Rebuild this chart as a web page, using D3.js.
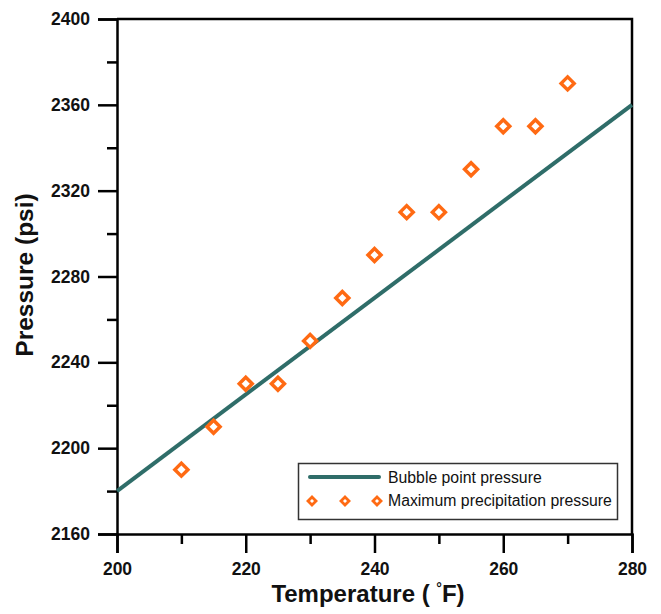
<!DOCTYPE html>
<html>
<head>
<meta charset="utf-8">
<script src="https://cdn.jsdelivr.net/npm/d3@7"></script>
<style>
  html, body { margin: 0; padding: 0; background: #fff; }
  svg { display: block; font-family: Arial, "Liberation Sans", sans-serif; }
</style>
</head>
<body>
<svg id="chart" width="661" height="614"></svg>
<script>
// Bubble point pressure line (end points of the straight trend)
const bubbleTemps = [200, 280];
const bubblePressures = [2180, 2360];

// Maximum precipitation pressure measurements
const precipTemps = [210, 215, 220, 225, 230, 235, 240, 245, 250, 255, 260, 265, 270];
const precipPressures = [2190, 2210, 2230, 2230, 2250, 2270, 2290, 2310, 2310, 2330, 2350, 2350, 2370];

// Axis ticks
const xMajorTicks = [200, 220, 240, 260, 280];
const xMinorTicks = [210, 230, 250, 270];
const yMajorTicks = [2160, 2200, 2240, 2280, 2320, 2360, 2400];
const yMinorTicks = [2180, 2220, 2260, 2300, 2340, 2380];

const seriesNames = ["Bubble point pressure", "Maximum precipitation pressure"];

const lineColor = "#2f6d69";
const markColor = "#ff6a13";

const margin = { left: 117, right: 632, top: 19, bottom: 534 };
const svg = d3.select("#chart");

const x = d3.scaleLinear().domain([200, 280]).range([margin.left, margin.right]);
const y = d3.scaleLinear().domain([2160, 2400]).range([margin.bottom, margin.top]);

// Frame (top and right edges)
svg.append("path")
  .attr("d", `M${margin.left},${margin.top}H${margin.right}V${margin.bottom}`)
  .attr("fill", "none").attr("stroke", "#000").attr("stroke-width", 2.5);

// Left axis: major and minor ticks
svg.append("g").attr("transform", `translate(${margin.left},0)`)
  .call(d3.axisLeft(y).tickValues(yMajorTicks).tickSize(19).tickPadding(8).tickFormat(d3.format("d")));
svg.append("g").attr("transform", `translate(${margin.left},0)`)
  .call(d3.axisLeft(y).tickValues(yMinorTicks).tickSize(10).tickFormat(""))
  .select(".domain").remove();

// Bottom axis: major and minor ticks
svg.append("g").attr("transform", `translate(0,${margin.bottom})`)
  .call(d3.axisBottom(x).tickValues(xMajorTicks).tickSize(19).tickPadding(10).tickFormat(d3.format("d")));
svg.append("g").attr("transform", `translate(0,${margin.bottom})`)
  .call(d3.axisBottom(x).tickValues(xMinorTicks).tickSize(10).tickFormat(""))
  .select(".domain").remove();

svg.selectAll(".domain").attr("stroke", "#000").attr("stroke-width", 2.5);
svg.selectAll(".tick line").attr("stroke", "#000").attr("stroke-width", 2.5);
svg.selectAll(".tick text")
  .attr("fill", "#111")
  .style("font-family", "Arial, 'Liberation Sans', sans-serif")
  .style("font-size", "17.5px")
  .style("font-weight", "bold");

// Bubble point pressure line
const line = d3.line().x(d => x(d[0])).y(d => y(d[1]));
svg.append("path")
  .datum(d3.zip(bubbleTemps, bubblePressures))
  .attr("d", line)
  .attr("fill", "none")
  .attr("stroke", lineColor)
  .attr("stroke-width", 4);

// Hollow diamond markers
const diamond = r => `M0,${-r}L${r},0L0,${r}L${-r},0Z`;
svg.append("g").selectAll("path")
  .data(d3.zip(precipTemps, precipPressures))
  .join("path")
  .attr("transform", d => `translate(${x(d[0])},${y(d[1])})`)
  .attr("d", diamond(6.5))
  .attr("fill", "#fff")
  .attr("stroke", markColor)
  .attr("stroke-width", 3.5);

// Legend
const legend = svg.append("g");
legend.append("rect")
  .attr("x", 298.5).attr("y", 463.5).attr("width", 319).attr("height", 56)
  .attr("fill", "#fff").attr("stroke", "#333").attr("stroke-width", 1.5);
legend.append("line")
  .attr("x1", 310).attr("x2", 379).attr("y1", 477).attr("y2", 477)
  .attr("stroke", lineColor).attr("stroke-width", 4).attr("stroke-linecap", "round");
legend.selectAll(".lm")
  .data([312, 345, 377])
  .join("path")
  .attr("class", "lm")
  .attr("transform", d => `translate(${d},501)`)
  .attr("d", diamond(4))
  .attr("fill", "#fff")
  .attr("stroke", markColor)
  .attr("stroke-width", 2.8);
legend.selectAll(".lt")
  .data(seriesNames)
  .join("text")
  .attr("class", "lt")
  .attr("x", 388)
  .attr("y", (d, i) => 483 + i * 23)
  .attr("fill", "#111")
  .style("font-size", "15.8px")
  .text(d => d);

// Axis titles
const xt = svg.append("text")
  .attr("x", 368).attr("y", 602)
  .attr("text-anchor", "middle")
  .attr("fill", "#111")
  .style("font-size", "24px").style("font-weight", "bold");
xt.append("tspan").text("Temperature ( ");
xt.append("tspan").attr("dy", -9).style("font-size", "14px").text("\u00B0");
xt.append("tspan").attr("dy", 9).text("F)");

svg.append("text")
  .attr("transform", "translate(33,275) rotate(-90)")
  .attr("text-anchor", "middle")
  .attr("fill", "#111")
  .style("font-size", "24.5px").style("font-weight", "bold")
  .text("Pressure (psi)");
</script>
</body>
</html>
